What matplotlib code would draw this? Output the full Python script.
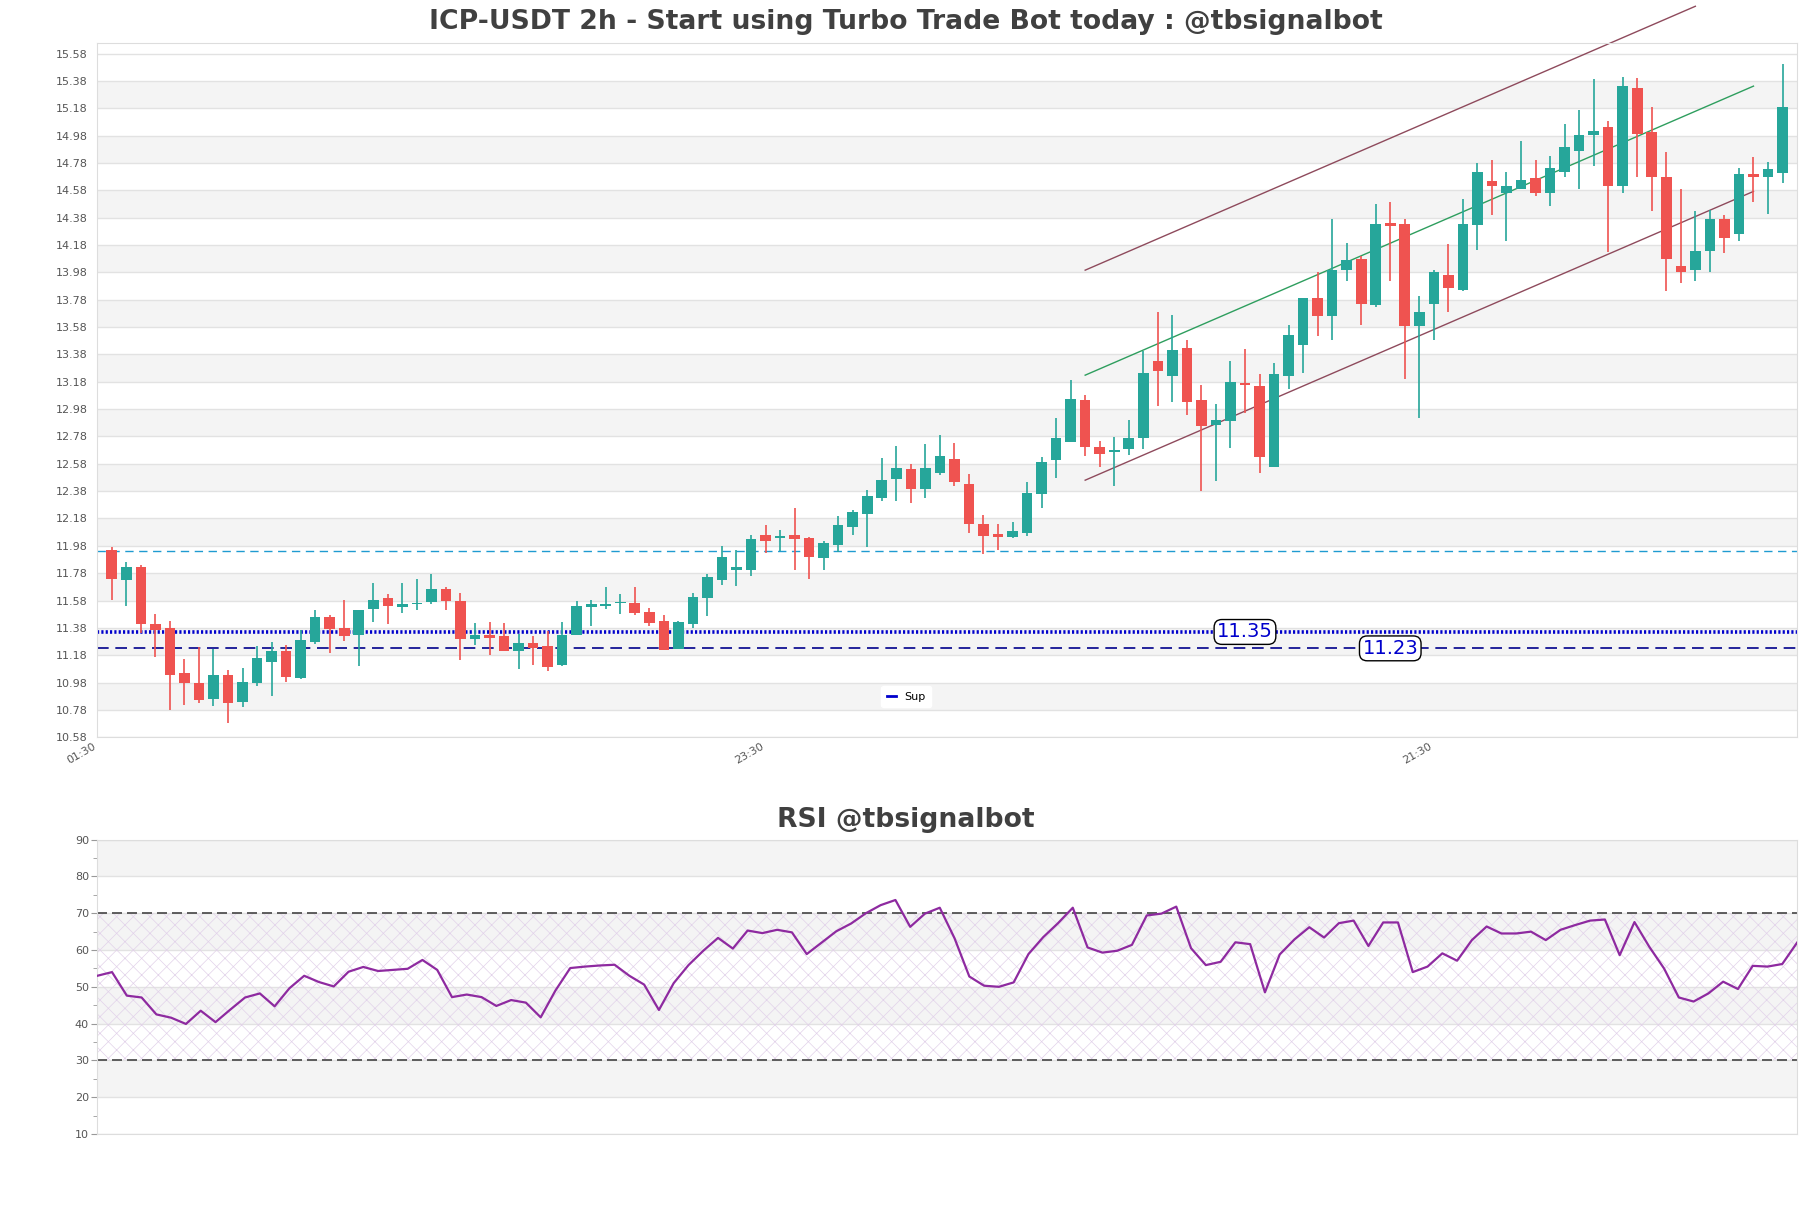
import matplotlib
matplotlib.use("Agg")
import matplotlib.pyplot as plt
from matplotlib.lines import Line2D
import numpy as np

plt.rcParams["font.family"] = ["DejaVu Sans"]
plt.rcParams["hatch.linewidth"] = 0.5

# ---- data ----
opens = [11.951, 11.728, 11.828, 11.405, 11.376, 11.048, 10.978, 10.862, 11.034, 10.840,
         10.978, 11.131, 11.209, 11.014, 11.277, 11.463, 11.376, 11.328, 11.517, 11.595,
         11.531, 11.553, 11.568, 11.667, 11.580, 11.296, 11.325, 11.318, 11.211, 11.272,
         11.248, 11.109, 11.331, 11.536, 11.543, 11.562, 11.562, 11.497, 11.431, 11.228,
         11.411, 11.601, 11.733, 11.801, 11.806, 12.060, 12.040, 12.060, 12.040, 11.894,
         11.987, 12.114, 12.216, 12.333, 12.472, 12.543, 12.392, 12.516, 12.616, 12.433,
         12.143, 12.067, 12.048, 12.077, 12.362, 12.611, 12.740, 13.047, 12.701, 12.665,
         12.687, 12.765, 13.333, 13.225, 13.428, 13.047, 12.865, 12.896, 13.172, 13.150,
         12.560, 13.225, 13.450, 13.794, 13.664, 13.998, 14.079, 13.742, 14.342, 14.335,
         13.584, 13.752, 13.962, 13.852, 14.323, 14.647, 14.564, 14.586, 14.671, 14.564,
         14.713, 14.864, 14.984, 15.042, 14.608, 15.330, 15.006, 14.679, 14.028, 13.994,
         14.133, 14.372, 14.257, 14.701, 14.681, 14.710]
highs = [11.968, 11.864, 11.842, 11.478, 11.427, 11.150, 11.238, 11.228, 11.070, 11.085,
         11.245, 11.274, 11.257, 11.366, 11.507, 11.471, 11.587, 11.514, 11.711, 11.624,
         11.711, 11.740, 11.777, 11.682, 11.633, 11.413, 11.422, 11.413, 11.332, 11.321,
         11.358, 11.421, 11.575, 11.587, 11.680, 11.631, 11.680, 11.523, 11.475, 11.428,
         11.636, 11.772, 11.979, 11.950, 12.057, 12.133, 12.096, 12.257, 12.048, 12.016,
         12.199, 12.243, 12.387, 12.623, 12.711, 12.579, 12.726, 12.791, 12.730, 12.504,
         12.206, 12.140, 12.155, 12.448, 12.626, 12.913, 13.194, 13.084, 12.748, 12.777,
         12.901, 13.408, 13.691, 13.669, 13.486, 13.155, 13.018, 13.333, 13.420, 13.237,
         13.318, 13.596, 13.794, 13.986, 14.369, 14.194, 14.096, 14.481, 14.493, 14.372,
         13.808, 13.998, 14.191, 14.518, 14.779, 14.803, 14.715, 14.942, 14.803, 14.832,
         15.066, 15.169, 15.393, 15.088, 15.408, 15.400, 15.188, 14.859, 14.588, 14.427,
         14.436, 14.400, 14.740, 14.827, 14.788, 15.505]
lows = [11.587, 11.539, 11.342, 11.167, 10.781, 10.818, 10.832, 10.811, 10.687, 10.803,
        10.956, 10.883, 10.985, 11.007, 11.262, 11.197, 11.284, 11.102, 11.422, 11.408,
        11.488, 11.507, 11.558, 11.507, 11.146, 11.252, 11.180, 11.211, 11.080, 11.109,
        11.067, 11.102, 11.331, 11.394, 11.519, 11.484, 11.472, 11.394, 11.219, 11.228,
        11.382, 11.470, 11.697, 11.689, 11.762, 11.931, 11.943, 11.804, 11.738, 11.804,
        11.938, 12.060, 11.975, 12.309, 12.311, 12.296, 12.333, 12.499, 12.421, 12.077,
        11.918, 11.953, 12.040, 12.053, 12.255, 12.474, 12.737, 12.640, 12.560, 12.414,
        12.645, 12.689, 12.999, 13.035, 12.940, 12.384, 12.457, 12.699, 12.950, 12.515,
        12.560, 13.128, 13.247, 13.511, 13.486, 13.920, 13.596, 13.730, 13.920, 13.200,
        12.918, 13.486, 13.691, 13.847, 14.140, 14.396, 14.206, 14.586, 14.535, 14.462,
        14.681, 14.586, 14.759, 14.128, 14.557, 14.681, 14.431, 13.840, 13.903, 13.919,
        13.982, 14.124, 14.212, 14.492, 14.408, 14.637]
closes = [11.735, 11.828, 11.408, 11.366, 11.036, 10.978, 10.854, 11.034, 10.832, 10.983,
          11.158, 11.213, 11.022, 11.289, 11.456, 11.371, 11.320, 11.514, 11.587, 11.539,
          11.558, 11.565, 11.667, 11.575, 11.296, 11.325, 11.306, 11.211, 11.267, 11.231,
          11.097, 11.328, 11.540, 11.555, 11.555, 11.572, 11.489, 11.416, 11.219, 11.421,
          11.606, 11.753, 11.899, 11.826, 12.031, 12.018, 12.050, 12.033, 11.901, 12.001,
          12.133, 12.228, 12.345, 12.462, 12.550, 12.392, 12.550, 12.638, 12.450, 12.143,
          12.055, 12.048, 12.089, 12.367, 12.594, 12.769, 13.055, 12.706, 12.650, 12.682,
          12.769, 13.245, 13.260, 13.413, 13.035, 12.857, 12.901, 13.179, 13.157, 12.626,
          13.237, 13.523, 13.794, 13.664, 13.998, 14.072, 13.752, 14.335, 14.318, 13.591,
          13.691, 13.979, 13.862, 14.335, 14.715, 14.615, 14.613, 14.657, 14.557, 14.745,
          14.898, 14.984, 15.015, 14.615, 15.344, 14.993, 14.676, 14.081, 13.986, 14.137,
          14.372, 14.228, 14.701, 14.674, 14.737, 15.191]

rsi = [53.0, 54.0, 47.6, 47.1, 42.5, 41.6, 39.9, 43.5, 40.4, 43.8,
       47.1, 48.2, 44.7, 49.6, 53.0, 51.3, 50.1, 54.1, 55.4, 54.3,
       54.6, 54.9, 57.3, 54.6, 47.2, 47.9, 47.2, 44.8, 46.4, 45.7,
       41.7, 49.0, 55.1, 55.5, 55.8, 56.0, 53.0, 50.6, 43.7, 51.0,
       55.9, 59.8, 63.3, 60.4, 65.3, 64.6, 65.5, 64.8, 58.9, 62.0,
       65.1, 67.2, 70.0, 72.2, 73.6, 66.3, 69.9, 71.5, 63.2, 52.8,
       50.3, 50.0, 51.2, 58.9, 63.5, 67.3, 71.5, 60.7, 59.3, 59.8,
       61.4, 69.4, 69.9, 71.8, 60.5, 55.9, 56.8, 62.1, 61.6, 48.5,
       58.8, 62.9, 66.2, 63.4, 67.3, 68.0, 61.1, 67.5, 67.5, 54.0,
       55.5, 59.1, 57.1, 62.7, 66.4, 64.5, 64.5, 65.0, 62.7, 65.5,
       66.8, 68.0, 68.3, 58.6, 67.6, 60.9, 55.0, 47.1, 46.0, 48.2,
       51.4, 49.4, 55.7, 55.5, 56.2, 62.0]

xtick_pos = [-1, 45, 91]
xtick_labels = ["01:30", "23:30", "21:30"]

resistance_level = 11.94
support_levels = [11.35, 11.23]
support_label_x = [78, 88]

# channel lines: (start index, end index, start price, end price)
channel_upper = [67, 109, 13.996, 15.926]
channel_mid = [67, 113, 13.228, 15.342]
channel_lower = [67, 113, 12.460, 14.572]

title = "ICP-USDT 2h - Start using Turbo Trade Bot today : @tbsignalbot"
rsi_title = "RSI @tbsignalbot"

# ---- styling ----
UP = "#26a69a"
DOWN = "#ef5350"
BAND = "#f4f4f4"
GRID = "#e2e2e2"
SPINE = "#dddddd"
TXT = "#555555"

fig = plt.figure(figsize=(18.11, 12.08), dpi=100)
ax = fig.add_axes([0.0537, 0.3897, 0.9386, 0.5750])
ax2 = fig.add_axes([0.0537, 0.0613, 0.9386, 0.2436])

n = len(opens)
x = np.arange(n)
o = np.array(opens)
h = np.array(highs)
l = np.array(lows)
c = np.array(closes)
colors = [UP if cc >= oo else DOWN for oo, cc in zip(o, c)]

# price panel background bands + grid
yticks = np.round(np.arange(10.58, 15.59, 0.2), 2)
for k in range(1, len(yticks) - 1, 2):
    ax.axhspan(yticks[k], yticks[k + 1], color=BAND, zorder=0, lw=0)
for yt in yticks:
    ax.axhline(yt, color=GRID, lw=1, zorder=0.5)

ax.axhline(resistance_level, color="#1f9bd1", lw=1, ls=(0, (6, 4)), zorder=1)
ax.axhline(support_levels[0], color="#0000cc", lw=2.6, ls=(0, (0.6, 0.6)), zorder=1)
ax.axhline(support_levels[1], color="#00008b", lw=1.2, ls=(0, (7, 4)), zorder=1)

for lvl, lx in zip(support_levels, support_label_x):
    ax.text(lx, lvl, f"{lvl:.2f}", color="#0000cc", fontsize=14, ha="center", va="center",
            zorder=5, bbox=dict(boxstyle="round,pad=0.15,rounding_size=0.4",
                                facecolor="white", edgecolor="black", lw=1))

for line, col in ((channel_upper, "#8e4a5c"), (channel_mid, "#2e9e5e"), (channel_lower, "#8e4a5c")):
    ax.plot([line[0], line[1]], [line[2], line[3]], color=col, lw=1, zorder=2, clip_on=False)

# candles
ax.vlines(x, l, h, colors=colors, lw=1.2, zorder=3)
body = np.where(np.abs(c - o) < 0.008, 0.008, c - o)
ax.bar(x, body, bottom=o, width=0.73, color=colors, lw=0, zorder=4)

ax.set_xlim(-1, 116)
ax.set_ylim(10.58, 15.66)
ax.set_yticks(yticks)
ax.set_yticklabels([f"{v:.2f}" for v in yticks])
ax.set_xticks(xtick_pos)
ax.set_xticklabels(xtick_labels, rotation=30, ha="right")
ax.tick_params(axis="both", length=0, labelsize=8, labelcolor=TXT, pad=7)
ax.tick_params(axis="x", pad=3)
for s in ax.spines.values():
    s.set_color(SPINE)

sup_handle = Line2D([], [], color="#0000cc", lw=2)
ax.legend(handles=[sup_handle], labels=["Sup"], loc="lower center",
          bbox_to_anchor=(0.476, 0.035), fontsize=8, frameon=True, facecolor="white",
          edgecolor="white", framealpha=1, handlelength=0.8, borderpad=0.5)

fig.text(0.5, 1 - 22 / 1208, title, ha="center", va="center", fontsize=19.2,
         fontweight="bold", color="#404040")

# RSI panel
for lo in (20, 40, 60, 80):
    ax2.axhspan(lo, lo + 10, color=BAND, zorder=0, lw=0)
for yt in range(10, 91, 10):
    ax2.axhline(yt, color=GRID, lw=1, zorder=0.5)
ax2.axhspan(30, 70, facecolor="none", edgecolor="#e2d2ea", hatch="xx", lw=0, zorder=0.6)
ax2.axhline(70, color="#444444", lw=1.2, ls=(0, (6, 3)), zorder=2)
ax2.axhline(30, color="#444444", lw=1.2, ls=(0, (6, 3)), zorder=2)
ax2.plot(np.arange(len(rsi)), rsi, color="#8e2aa0", lw=1.6, zorder=3)

ax2.set_xlim(0, len(rsi) - 1)
ax2.set_ylim(10, 90)
ax2.set_yticks(range(10, 91, 10))
ax2.set_yticks(range(15, 90, 10), minor=True)
ax2.set_xticks([])
ax2.tick_params(axis="y", which="major", length=4, color="#999999", labelsize=8,
                labelcolor=TXT, pad=2)
ax2.tick_params(axis="y", which="minor", length=3, color="#999999")
for s in ax2.spines.values():
    s.set_color(SPINE)

fig.text(0.5, 1 - 820 / 1208, rsi_title, ha="center", va="center", fontsize=19.2,
         fontweight="bold", color="#404040")

fig.savefig("out.png", dpi=100, facecolor="white")
